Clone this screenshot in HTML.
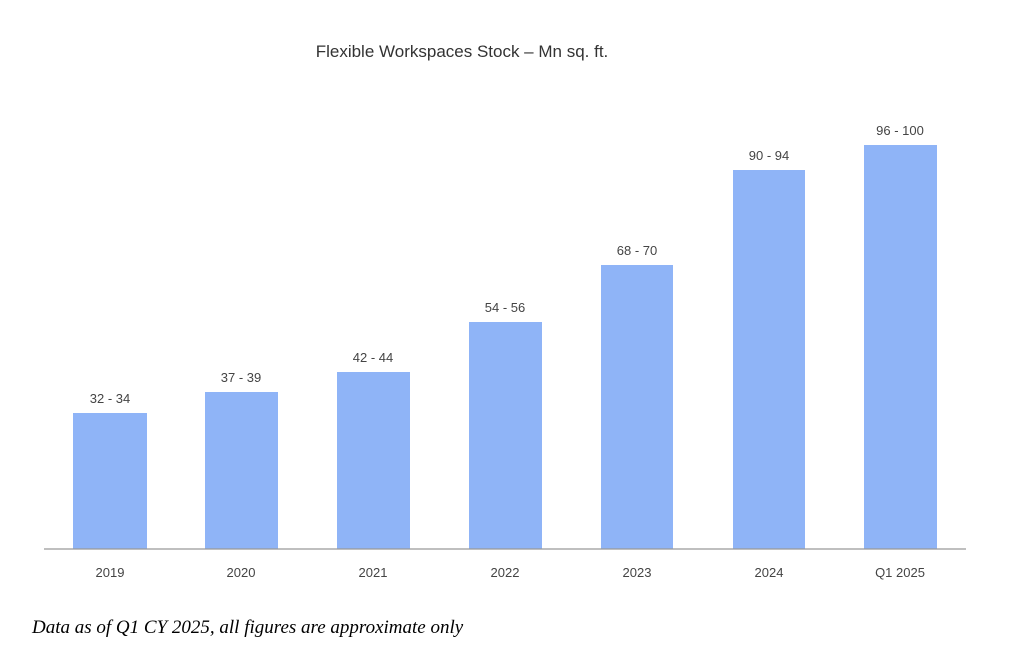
<!DOCTYPE html>
<html><head><style>
body{margin:0;background:#fff;width:1024px;height:651px;overflow:hidden;}
</style></head><body>
<svg width="1024" height="651" xmlns="http://www.w3.org/2000/svg" font-family="Liberation Sans, sans-serif">
<text x="462" y="57" font-size="17" fill="#333" text-anchor="middle">Flexible Workspaces Stock – Mn sq. ft.</text>
<g fill="#8fb4f7">
<rect x="73" y="413" width="74" height="136"/>
<rect x="205" y="392" width="73" height="157"/>
<rect x="337" y="372" width="73" height="177"/>
<rect x="469" y="322" width="73" height="227"/>
<rect x="601" y="265" width="72" height="284"/>
<rect x="733" y="170" width="72" height="379"/>
<rect x="864" y="145" width="73" height="404"/>
</g>
<line x1="44" y1="549" x2="966" y2="549" stroke="#999" stroke-width="1.2"/>
<g font-size="13" fill="#444" text-anchor="middle">
<text x="110" y="403">32 - 34</text>
<text x="241" y="382">37 - 39</text>
<text x="373" y="362">42 - 44</text>
<text x="505" y="312">54 - 56</text>
<text x="637" y="255">68 - 70</text>
<text x="769" y="160">90 - 94</text>
<text x="900" y="135">96 - 100</text>
<text x="110" y="577">2019</text>
<text x="241" y="577">2020</text>
<text x="373" y="577">2021</text>
<text x="505" y="577">2022</text>
<text x="637" y="577">2023</text>
<text x="769" y="577">2024</text>
<text x="900" y="577">Q1 2025</text>
</g>
<text x="32" y="633" font-size="19" font-style="italic" font-family="Liberation Serif, serif" fill="#000">Data as of Q1 CY 2025, all figures are approximate only</text>
</svg>
</body></html>
